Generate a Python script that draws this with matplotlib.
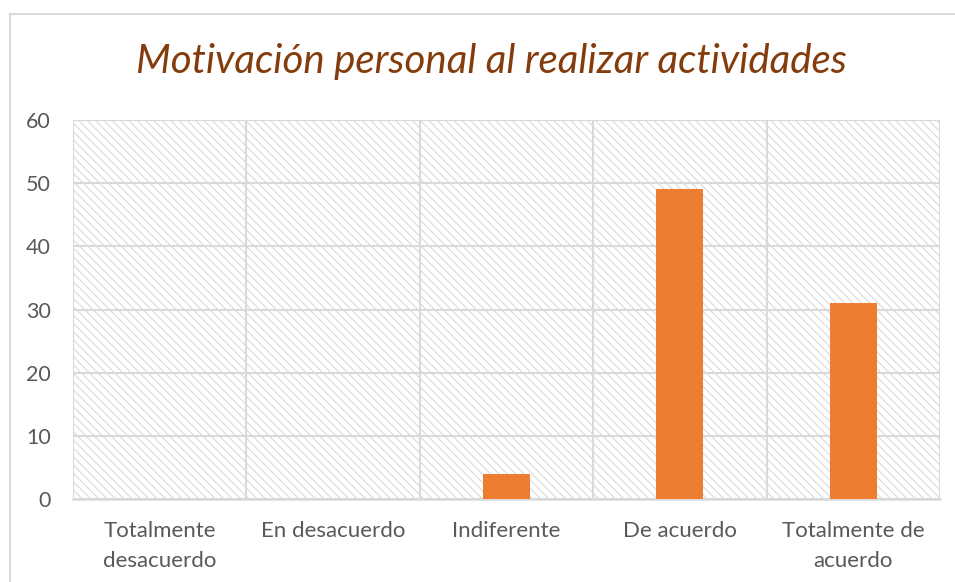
import numpy as np
import matplotlib.pyplot as plt
from matplotlib.patches import Rectangle
from matplotlib.lines import Line2D

categories = ['Totalmente\ndesacuerdo', 'En desacuerdo', 'Indiferente',
              'De acuerdo', 'Totalmente de\nacuerdo']
values = [0, 0, 4, 49, 31]
y_ticks = [0, 10, 20, 30, 40, 50, 60]
title = 'Motivación personal al realizar actividades'

plt.rcParams['font.family'] = ['Lato', 'DejaVu Sans']
plt.rcParams['hatch.linewidth'] = 0.8

grid_color = '#d9d9d9'
bar_color = '#ed7d31'
text_color = '#595959'

fig = plt.figure(figsize=(9.55, 5.82), dpi=100)
ax = fig.add_axes([73 / 955, 1 - 499 / 582, 867 / 955, 379 / 582])

# outer chart frame
fig.add_artist(Line2D([10 / 955, 10 / 955], [0, 1 - 14 / 582], transform=fig.transFigure,
                      color=grid_color, linewidth=1.5))
fig.add_artist(Line2D([10 / 955, 1], [1 - 14 / 582, 1 - 14 / 582], transform=fig.transFigure,
                      color=grid_color, linewidth=1.5))

# hatched plot area
ax.add_patch(Rectangle((0, 0), 1, 1, transform=ax.transAxes, facecolor='white',
                       edgecolor=grid_color, hatch='\\\\\\\\', linewidth=0, zorder=0))

x = np.arange(len(categories))
ax.bar(x, values, width=0.27, color=bar_color, zorder=3)

ax.set_xlim(-0.5, len(categories) - 0.5)
ax.set_ylim(0, 60)
ax.set_yticks(y_ticks)
ax.set_xticks(x)
ax.set_xticklabels(categories)
ax.set_xticks(np.arange(-0.5, len(categories), 1), minor=True)
ax.tick_params(axis='x', which='both', length=0, colors=text_color, labelsize=16, pad=16)
ax.tick_params(axis='y', which='both', length=0, colors=text_color, labelsize=15.5, pad=16)
for lbl in ax.get_xticklabels():
    lbl.set_linespacing(1.6)
    lbl.set_va('top')

ax.grid(axis='y', color=grid_color, linewidth=1.5, zorder=1)
ax.grid(axis='x', which='minor', color=grid_color, linewidth=1.5, zorder=1)
ax.set_axisbelow(True)
for side in ['top', 'right', 'left']:
    ax.spines[side].set_visible(False)
ax.spines['bottom'].set_color(grid_color)
ax.spines['bottom'].set_linewidth(1.8)

fig.text(491 / 955, 1 - 62 / 582, title, ha='center', va='center', fontsize=29,
         style='italic', color='#843c0c')

fig.savefig('out.png', dpi=100)
